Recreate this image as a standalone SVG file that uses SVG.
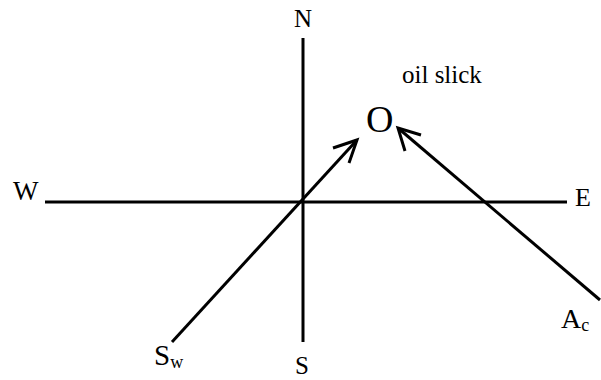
<svg xmlns="http://www.w3.org/2000/svg" width="601" height="380" viewBox="0 0 601 380">
<style>
.t{font-family:'Liberation Serif','DejaVu Serif',serif;fill:#000}
.ln{stroke:#000;stroke-width:3;fill:none}
.ah{stroke:#000;stroke-width:3;fill:none;stroke-linecap:butt}
</style>
<rect width="601" height="380" fill="#fff"/>
<g id="connectors">
<line id="ns" class="ln" x1="303" y1="38" x2="303" y2="342"/>
<line id="we" class="ln" x1="45" y1="202" x2="567" y2="202"/>
<line id="sw" class="ln" x1="172" y1="342" x2="357" y2="140"/>
<polyline class="ah" points="333,148 357,140 349,163"/>
<line id="ac" class="ln" x1="600" y1="300" x2="398" y2="128"/>
<polyline class="ah" points="421,135 398,128 405,151"/>
</g>
<g id="N"><text class="t" x="303" y="27" font-size="25" text-anchor="middle">N</text></g>
<g id="S"><text class="t" x="302" y="374" font-size="25" text-anchor="middle">S</text></g>
<g id="W"><text class="t" x="13" y="200" font-size="27">W</text></g>
<g id="E"><text class="t" x="575" y="206" font-size="26">E</text></g>
<g id="oil"><text class="t" x="366" y="132" font-size="38">O</text><text class="t" x="402" y="83" font-size="25">oil slick</text></g>
<g id="Sw"><text class="t" x="154" y="365" font-size="29">S<tspan font-size="18" dy="3">w</tspan></text></g>
<g id="Ac"><text class="t" x="561" y="328" font-size="28">A<tspan font-size="18" dy="3">c</tspan></text></g>
</svg>
